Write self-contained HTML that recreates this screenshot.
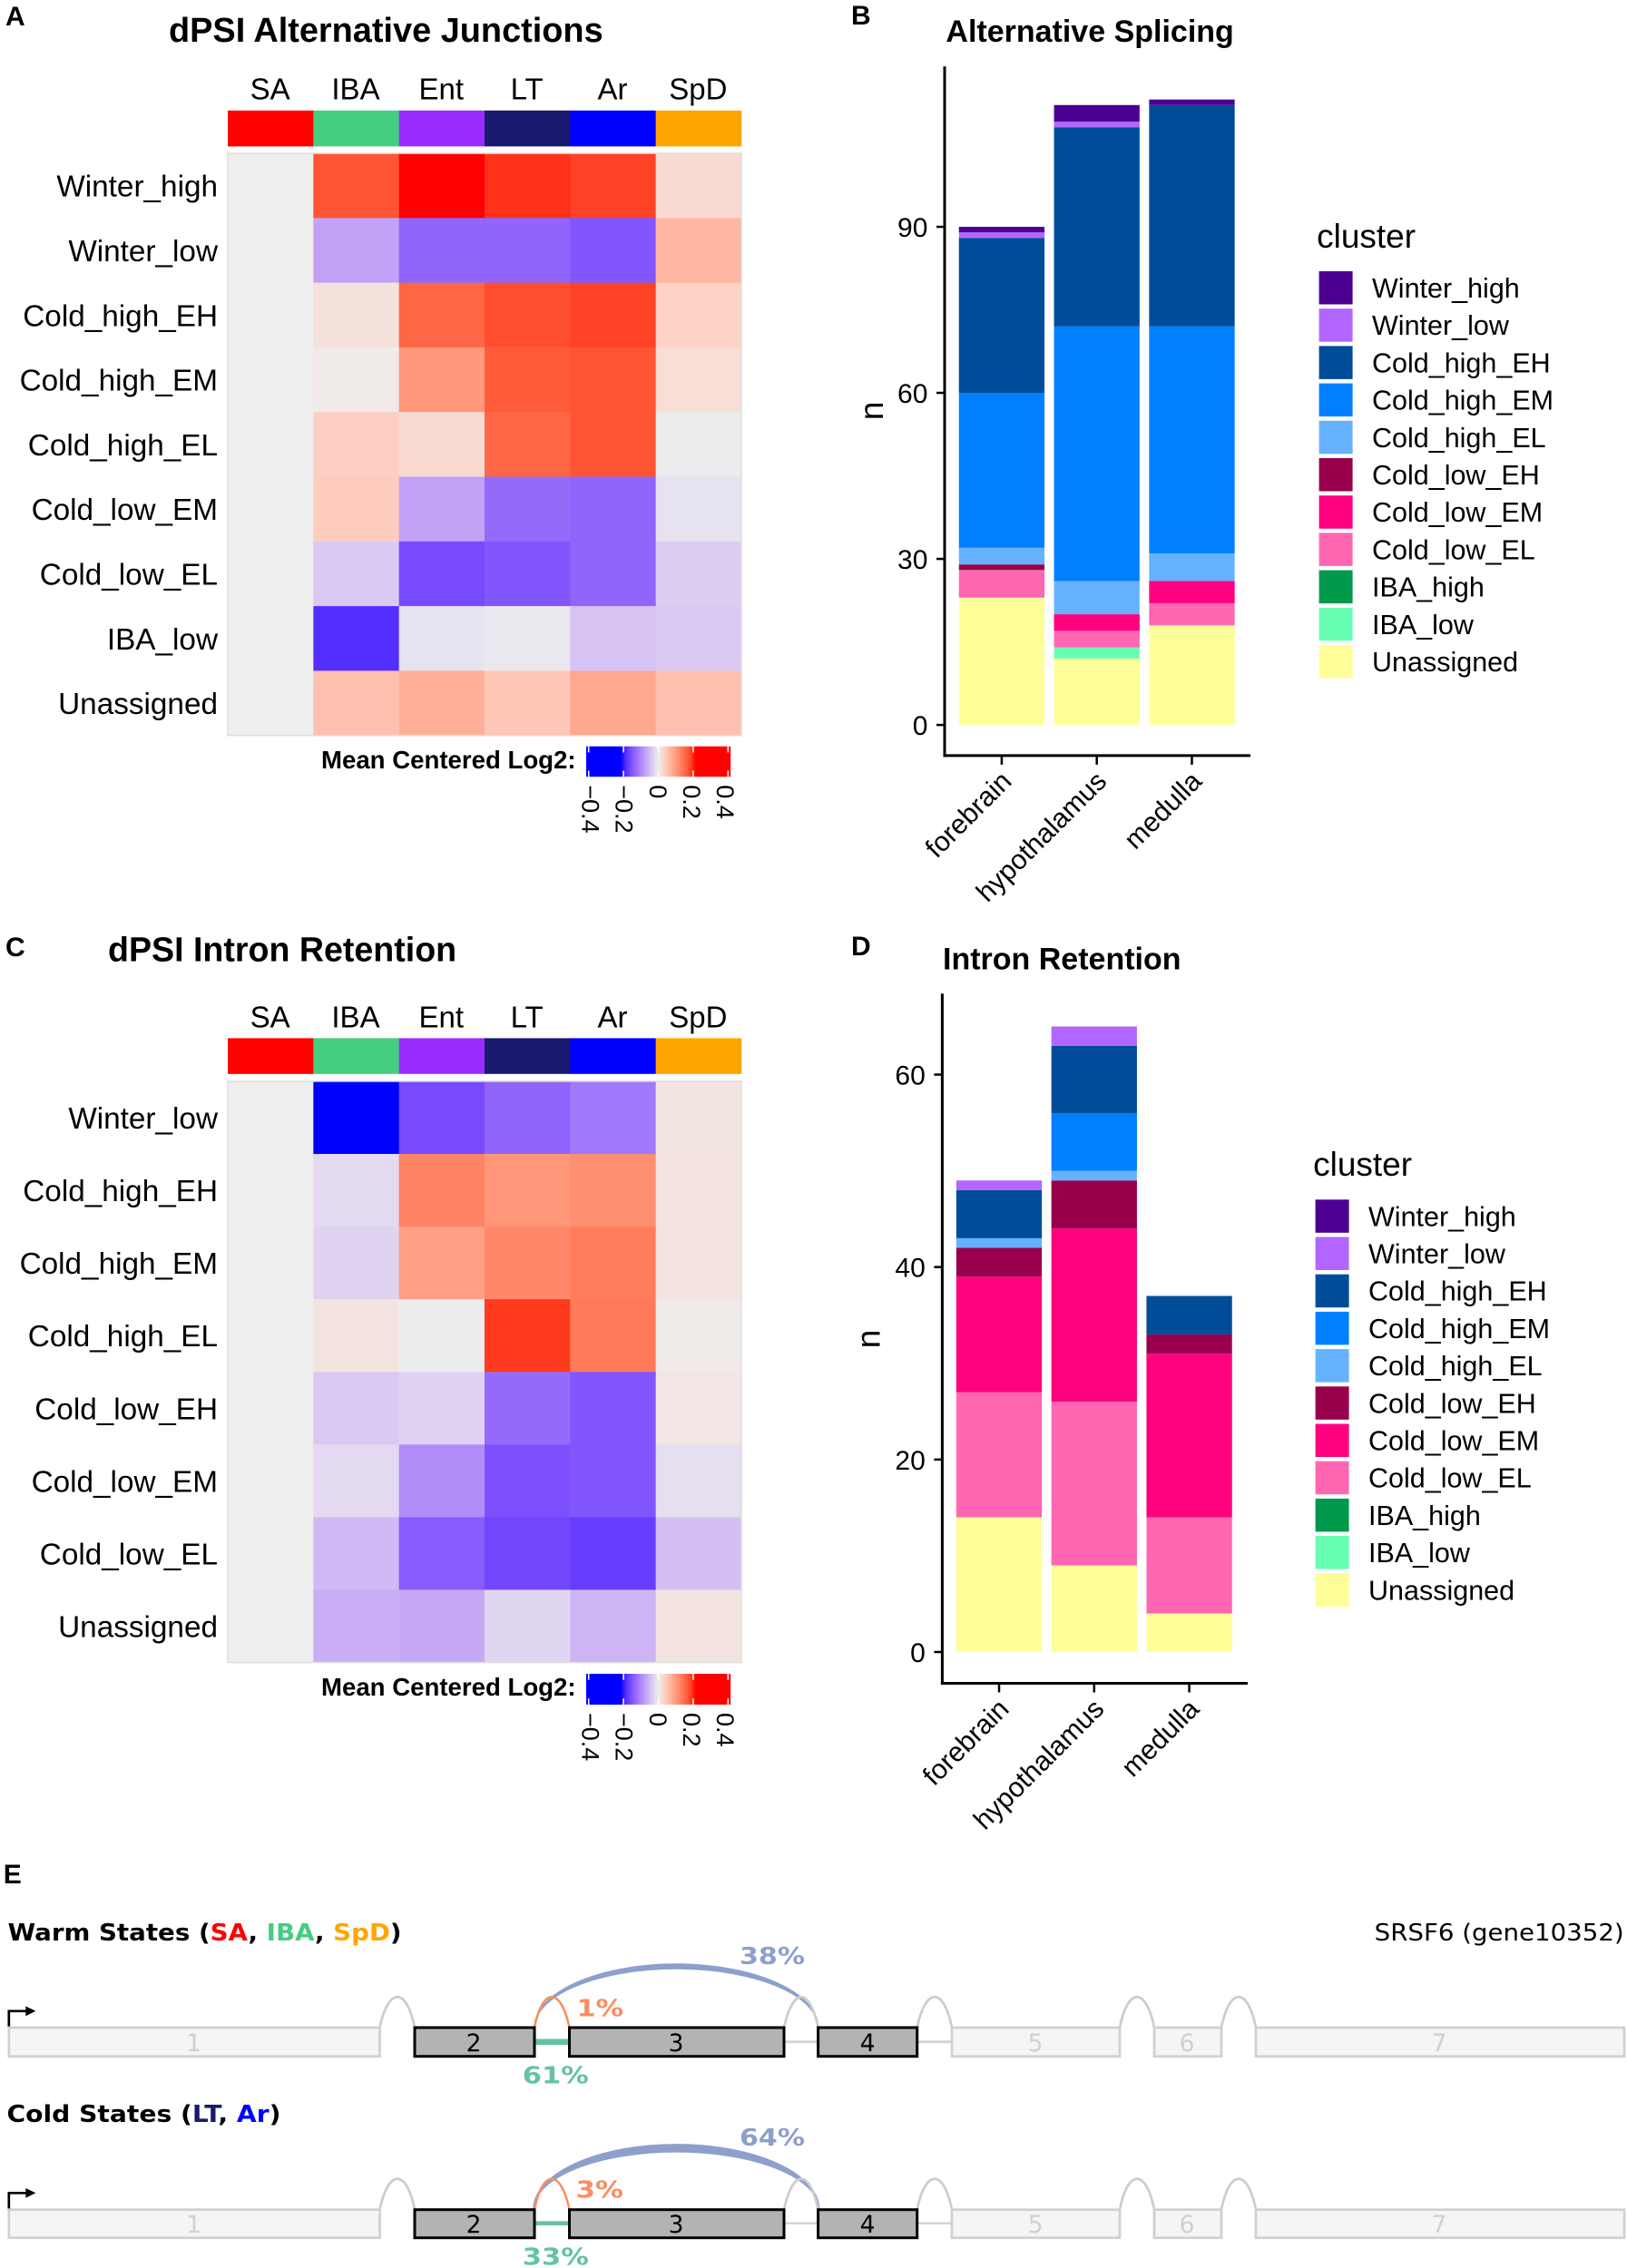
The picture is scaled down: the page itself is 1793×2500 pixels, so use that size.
<!DOCTYPE html>
<html lang="en">
<head>
<meta charset="utf-8">
<title>dPSI splicing figure</title>
<style>
html,body{margin:0;padding:0;background:#fff;}
svg{display:block;}
text{font-family:"Liberation Sans",sans-serif;fill:#000;}
.pl{font-weight:700;font-size:30px;}
.ttl{font-weight:700;}
.dj{font-family:"DejaVu Sans",sans-serif;}
.djb{font-family:"DejaVu Sans",sans-serif;font-weight:700;}
.ex{fill:#f5f5f5;stroke:#d0d0d0;stroke-width:2.7;}
.exa{fill:#b3b3b3;stroke:#000;stroke-width:3;}
.gn{font-family:"DejaVu Sans",sans-serif;font-size:26.5px;fill:#d0d0d0;text-anchor:middle;}
.an{font-family:"DejaVu Sans",sans-serif;font-size:26.5px;fill:#000;text-anchor:middle;}
.arc{fill:none;stroke:#cccccc;stroke-width:2.7;}
.blue{fill:#8da0cb;stroke:#8da0cb;stroke-width:1.5;}
</style>
</head>
<body>
<svg id="fig" xmlns="http://www.w3.org/2000/svg" width="1793" height="2500" viewBox="0 0 1793 2500">
  <rect width="1793" height="2500" fill="#fff"/>

  <text class="pl" x="6" y="28">A</text>
  <text class="ttl" x="186" y="46" font-size="37.9">dPSI Alternative Junctions</text>
  <g id="heatA"></g>

  <text class="pl" x="938" y="27">B</text>
  <text class="ttl" x="1042.4" y="46" font-size="34">Alternative Splicing</text>
  <g id="barsB"></g>

  <text class="pl" x="6" y="1054">C</text>
  <text class="ttl" x="119" y="1059.5" font-size="37.6">dPSI Intron Retention</text>
  <g id="heatC"></g>

  <text class="pl" x="938" y="1053">D</text>
  <text class="ttl" x="1039" y="1068.5" font-size="34">Intron Retention</text>
  <g id="barsD"></g>

  <!-- Panel E -->
  <text class="pl" x="3.8" y="2076">E</text>
  <text class="djb" x="8.6" y="2139" font-size="26" textLength="434" lengthAdjust="spacingAndGlyphs">Warm States (<tspan fill="#ff0000">SA</tspan>, <tspan fill="#45cd80">IBA</tspan>, <tspan fill="#ffa500">SpD</tspan>)</text>
  <text class="dj" x="1514.7" y="2139" font-size="26" textLength="275" lengthAdjust="spacingAndGlyphs">SRSF6 (gene10352)</text>
  <text class="djb" x="7.5" y="2339" font-size="26" textLength="302" lengthAdjust="spacingAndGlyphs">Cold States (<tspan fill="#191970">LT</tspan>, <tspan fill="#0000ff">Ar</tspan>)</text>

  <g>
    <path d="M9.8 2235V2216.8H30" fill="none" stroke="#000" stroke-width="2.7"/>
    <path d="M28.3 2211.5L39.3 2216.8L28.3 2222.3Z" fill="#000"/>
    <path class="arc" d="M418.5 2235C428 2190 448 2190 457 2235"/>
    <path class="arc" d="M1010.7 2235C1020 2190 1040 2190 1049 2235"/>
    <path class="arc" d="M1234 2235C1243 2190 1263 2190 1272 2235"/>
    <path class="arc" d="M1346 2235C1355 2190 1375 2190 1384 2235"/>
    <line x1="864" y1="2250.7" x2="901.6" y2="2250.7" stroke="#d4d4d4" stroke-width="3"/>
    <line x1="1010.7" y1="2250.7" x2="1049" y2="2250.7" stroke="#d4d4d4" stroke-width="3"/>
    <line x1="589" y1="2250.7" x2="627.5" y2="2250.7" stroke="#66c2a5" stroke-width="6.5"/>
    <path class="blue" d="M589 2235A156.3 70 0 0 1 901.6 2235A156.3 65 0 0 0 589 2235Z"/>
    <path class="arc" d="M864 2235C874 2190 892 2190 901.6 2235"/>
    <path d="M589 2235C598 2190 618 2190 627.5 2235" fill="none" stroke="#fc8d62" stroke-width="2.5"/>
    <rect class="ex" x="9.8" y="2235" width="408.7" height="31.7"/>
    <rect class="exa" x="457" y="2235" width="132" height="31.7"/>
    <rect class="exa" x="627.5" y="2235" width="236.5" height="31.7"/>
    <rect class="exa" x="901.6" y="2235" width="109.1" height="31.7"/>
    <rect class="ex" x="1049" y="2235" width="185" height="31.7"/>
    <rect class="ex" x="1272" y="2235" width="74" height="31.7"/>
    <rect class="ex" x="1384" y="2235" width="406" height="31.7"/>
    <text class="gn" x="213.5" y="2261">1</text>
    <text class="an" x="522" y="2261">2</text>
    <text class="an" x="745" y="2261">3</text>
    <text class="an" x="956" y="2261">4</text>
    <text class="gn" x="1141" y="2261">5</text>
    <text class="gn" x="1308" y="2261">6</text>
    <text class="gn" x="1586" y="2261">7</text>
    <text class="djb" x="815" y="2165" font-size="26" textLength="72" lengthAdjust="spacingAndGlyphs" style="fill:#8da0cb">38%</text>
    <text class="djb" x="635.5" y="2222.7" font-size="26" textLength="51.5" lengthAdjust="spacingAndGlyphs" style="fill:#fc8d62">1%</text>
    <text class="djb" x="575.8" y="2296.7" font-size="26" textLength="73" lengthAdjust="spacingAndGlyphs" style="fill:#66c2a5">61%</text>
  </g>

  <g>
    <path d="M9.8 2435.5V2417.3H30" fill="none" stroke="#000" stroke-width="2.7"/>
    <path d="M28.3 2412L39.3 2417.3L28.3 2422.8Z" fill="#000"/>
    <path class="arc" d="M418.5 2435.5C428 2390.5 448 2390.5 457 2435.5"/>
    <path class="arc" d="M1010.7 2435.5C1020 2390.5 1040 2390.5 1049 2435.5"/>
    <path class="arc" d="M1234 2435.5C1243 2390.5 1263 2390.5 1272 2435.5"/>
    <path class="arc" d="M1346 2435.5C1355 2390.5 1375 2390.5 1384 2435.5"/>
    <line x1="864" y1="2450.7" x2="901.6" y2="2450.7" stroke="#d4d4d4" stroke-width="2.5"/>
    <line x1="1010.7" y1="2450.7" x2="1049" y2="2450.7" stroke="#d4d4d4" stroke-width="2.5"/>
    <line x1="589" y1="2450.7" x2="627.5" y2="2450.7" stroke="#66c2a5" stroke-width="4.7"/>
    <path class="blue" d="M588 2435.5A157 71.5 0 0 1 902.6 2435.5A157 63.5 0 0 0 588 2435.5Z"/>
    <path class="arc" d="M864 2435.5C874 2390.5 892 2390.5 901.6 2435.5"/>
    <path d="M589 2435.5C598 2390.5 618 2390.5 627.5 2435.5" fill="none" stroke="#fc8d62" stroke-width="2.5"/>
    <rect class="ex" x="9.8" y="2435.7" width="408.7" height="31"/>
    <rect class="exa" x="457" y="2435.7" width="132" height="31"/>
    <rect class="exa" x="627.5" y="2435.7" width="236.5" height="31"/>
    <rect class="exa" x="901.6" y="2435.7" width="109.1" height="31"/>
    <rect class="ex" x="1049" y="2435.7" width="185" height="31"/>
    <rect class="ex" x="1272" y="2435.7" width="74" height="31"/>
    <rect class="ex" x="1384" y="2435.7" width="406" height="31"/>
    <text class="gn" x="213.5" y="2461">1</text>
    <text class="an" x="522" y="2461">2</text>
    <text class="an" x="745" y="2461">3</text>
    <text class="an" x="956" y="2461">4</text>
    <text class="gn" x="1141" y="2461">5</text>
    <text class="gn" x="1308" y="2461">6</text>
    <text class="gn" x="1586" y="2461">7</text>
    <text class="djb" x="815" y="2365" font-size="26" textLength="72" lengthAdjust="spacingAndGlyphs" style="fill:#8da0cb">64%</text>
    <text class="djb" x="634.5" y="2422.7" font-size="26" textLength="52.5" lengthAdjust="spacingAndGlyphs" style="fill:#fc8d62">3%</text>
    <text class="djb" x="575.8" y="2496.7" font-size="26" textLength="73" lengthAdjust="spacingAndGlyphs" style="fill:#66c2a5">33%</text>
  </g>
</svg>

<script>
const conditions = ['SA', 'IBA', 'Ent', 'LT', 'Ar', 'SpD'];
const conditionColors = ['#ff0000', '#45cd80', '#9a2cff', '#191970', '#0000ff', '#ffa500'];

const junctionRows = ['Winter_high', 'Winter_low', 'Cold_high_EH', 'Cold_high_EM', 'Cold_high_EL', 'Cold_low_EM', 'Cold_low_EL', 'IBA_low', 'Unassigned'];
const junctionValues = [
  [0, 0.17, 0.25, 0.195, 0.185, 0.024],
  [0, -0.075, -0.135, -0.135, -0.15, 0.068],
  [0, 0.016, 0.155, 0.175, 0.185, 0.034],
  [0, 0.004, 0.103, 0.165, 0.17, 0.02],
  [0, 0.038, 0.025, 0.155, 0.17, -0.003],
  [0, 0.042, -0.075, -0.13, -0.135, -0.012],
  [0, -0.036, -0.16, -0.15, -0.135, -0.032],
  [0, -0.185, -0.012, -0.005, -0.042, -0.036],
  [0, 0.056, 0.076, 0.048, 0.085, 0.056]
];

const intronRows = ['Winter_low', 'Cold_high_EH', 'Cold_high_EM', 'Cold_high_EL', 'Cold_low_EH', 'Cold_low_EM', 'Cold_low_EL', 'Unassigned'];
const intronValues = [
  [0, -0.25, -0.16, -0.135, -0.115, 0.01],
  [0, -0.02, 0.125, 0.105, 0.113, 0.012],
  [0, -0.026, 0.095, 0.12, 0.132, 0.012],
  [0, 0.012, -0.002, 0.19, 0.135, 0.004],
  [0, -0.036, -0.026, -0.13, -0.15, 0.008],
  [0, -0.02, -0.095, -0.155, -0.15, -0.015],
  [0, -0.052, -0.145, -0.165, -0.172, -0.046],
  [0, -0.063, -0.068, -0.023, -0.057, 0.012]
];

const colorbarTicks = [-0.4, -0.2, 0, 0.2, 0.4];
const colorbarTickLabels = ['\u22120.4', '\u22120.2', '0', '0.2', '0.4'];

const regions = ['forebrain', 'hypothalamus', 'medulla'];
const clusters = ['Winter_high', 'Winter_low', 'Cold_high_EH', 'Cold_high_EM', 'Cold_high_EL', 'Cold_low_EH', 'Cold_low_EM', 'Cold_low_EL', 'IBA_high', 'IBA_low', 'Unassigned'];
const clusterColors = ['#4b0092', '#b266ff', '#004c99', '#0080ff', '#66b2ff', '#99004c', '#ff007f', '#ff66b2', '#00994c', '#66ffb2', '#ffff99'];

const splicingForebrain = [1, 1, 28, 28, 3, 1, 0, 5, 0, 0, 23];
const splicingHypothalamus = [3, 1, 36, 46, 6, 0, 3, 3, 0, 2, 12];
const splicingMedulla = [1, 0, 40, 41, 5, 0, 4, 4, 0, 0, 18];
const splicingTicks = [0, 30, 60, 90];

const retentionForebrain = [0, 1, 5, 0, 1, 3, 12, 13, 0, 0, 14];
const retentionHypothalamus = [0, 2, 7, 6, 1, 5, 18, 17, 0, 0, 9];
const retentionMedulla = [0, 0, 4, 0, 0, 2, 17, 10, 0, 0, 4];
const retentionTicks = [0, 20, 40, 60];

const NS = 'http://www.w3.org/2000/svg';
function mk(parent, tag, attrs, txt) {
  const e = document.createElementNS(NS, tag);
  for (const k in attrs) e.setAttribute(k, attrs[k]);
  if (txt !== undefined) e.textContent = txt;
  parent.appendChild(e);
  return e;
}

/* Lab colour interpolation, as in a colorRamp2 scale */
function srgb2lin(c) { c /= 255; return c <= 0.04045 ? c / 12.92 : Math.pow((c + 0.055) / 1.055, 2.4); }
function lin2srgb(c) { c = Math.max(0, Math.min(1, c)); return 255 * (c <= 0.0031308 ? 12.92 * c : 1.055 * Math.pow(c, 1 / 2.4) - 0.055); }
function rgb2lab(r) {
  const R = srgb2lin(r[0]), G = srgb2lin(r[1]), B = srgb2lin(r[2]);
  const f = t => t > 0.008856 ? Math.cbrt(t) : 7.787 * t + 16 / 116;
  const x = f((0.4124 * R + 0.3576 * G + 0.1805 * B) / 0.95047);
  const y = f(0.2126 * R + 0.7152 * G + 0.0722 * B);
  const z = f((0.0193 * R + 0.1192 * G + 0.9505 * B) / 1.08883);
  return [116 * y - 16, 500 * (x - y), 200 * (y - z)];
}
function lab2rgb(l) {
  const fy = (l[0] + 16) / 116, fx = l[1] / 500 + fy, fz = fy - l[2] / 200;
  const g = t => t * t * t > 0.008856 ? t * t * t : (t - 16 / 116) / 7.787;
  const X = 0.95047 * g(fx), Y = g(fy), Z = 1.08883 * g(fz);
  return [
    lin2srgb(3.2406 * X - 1.5372 * Y - 0.4986 * Z),
    lin2srgb(-0.9689 * X + 1.8758 * Y + 0.0415 * Z),
    lin2srgb(0.0557 * X - 0.204 * Y + 1.057 * Z)
  ];
}
const colorDomain = 0.21;
const labMid = rgb2lab([238, 238, 238]), labHigh = rgb2lab([255, 0, 0]), labLow = rgb2lab([0, 0, 255]);
function heatColor(v) {
  const t = Math.min(1, Math.abs(v) / colorDomain);
  const end = v >= 0 ? labHigh : labLow;
  const c = lab2rgb([0, 1, 2].map(i => labMid[i] + (end[i] - labMid[i]) * t));
  return 'rgb(' + c.map(Math.round).join(',') + ')';
}

function drawHeatmap(root, key, rows, values, g) {
  const colX = c => g.left + c * g.colW;
  const rowY = r => g.top + r * g.rowH;

  conditions.forEach((name, c) => {
    const lab = mk(root, 'text', { x: colX(c) + g.colW / 2 - 0.5, y: g.colLabelY, 'font-size': 33, 'text-anchor': 'middle' }, name);
    
    
    const strip = mk(root, 'rect', { x: colX(c), y: g.stripTop, width: g.colW + 0.3, height: g.stripH, fill: conditionColors[c] });
    
    
  });

  rows.forEach((name, r) => {
    const lab = mk(root, 'text', { x: g.left - 11, y: rowY(r) + g.rowH / 2 + 12, 'font-size': 33.3, 'text-anchor': 'end' }, name);
    
    
    values[r].forEach((v, c) => {
      const cell = mk(root, 'rect', { x: colX(c), y: rowY(r), width: g.colW + 0.4, height: g.rowH + 0.4, fill: heatColor(v) });
      
      
    });
  });
  const frame = mk(root, 'rect', { x: g.left, y: g.top, width: g.colW * conditions.length, height: g.rowH * rows.length, fill: 'none', stroke: '#dddddd', 'stroke-width': 1.5 });
  
  

  /* colour bar */
  const cbX = v => 725.5 + v * 192;
  const defs = mk(root, 'defs', {});
  const grad = mk(defs, 'linearGradient', { id: 'grad' + key, x1: 0, x2: 1, y1: 0, y2: 0 });
  const lo = -0.414, hi = 0.415;
  for (let i = 0; i <= 60; i++) {
    const v = lo + (hi - lo) * i / 60;
    mk(grad, 'stop', { offset: (i / 60), 'stop-color': heatColor(v) });
  }
  const cbTitle = mk(root, 'text', { x: 354, y: g.cbTitleY, 'font-size': 27.6, 'font-weight': 700 }, 'Mean Centered Log2:');
  
  
  const bar = mk(root, 'rect', { x: cbX(lo), y: g.cbTop, width: cbX(hi) - cbX(lo), height: g.cbH, fill: 'url(#grad' + key + ')' });
  
  
  colorbarTicks.forEach((v, i) => {
    const t1 = mk(root, 'line', { x1: cbX(v), x2: cbX(v), y1: g.cbTop, y2: g.cbTop + g.cbH * 0.2, stroke: '#fff', 'stroke-width': 1.5 });
    
    
    const t2 = mk(root, 'line', { x1: cbX(v), x2: cbX(v), y1: g.cbTop + g.cbH * 0.8, y2: g.cbTop + g.cbH, stroke: '#fff', 'stroke-width': 1.5 });
    
    
    const lx = 725.8 + v * 185.3 - 10;
    const lab = mk(root, 'text', { transform: 'translate(' + lx + ',' + (g.cbTop + g.cbH + 9) + ') rotate(90)', 'font-size': 27 }, colorbarTickLabels[i]);
    
    
  });
}

function drawBars(root, series, ticks, g) {
  const yS = v => g.y0 - v * g.perUnit;
  const xS = i => g.x0 + i * g.band;

  series.forEach((counts, i) => {
    let cum = 0;
    for (let k = clusters.length - 1; k >= 0; k--) {
      if (!counts[k]) continue;
      const y1 = yS(cum + counts[k]), y2 = yS(cum);
      const seg = mk(root, 'rect', { x: xS(i) - g.barW / 2, y: y1, width: g.barW, height: y2 - y1, fill: clusterColors[k] });
      
      
      cum += counts[k];
    }
  });

  const yAxis = mk(root, 'line', { x1: g.axisX, x2: g.axisX, y1: g.axisTop, y2: g.axisY + 1.5, stroke: '#000', 'stroke-width': 3 });
  
  
  const xAxis = mk(root, 'line', { x1: g.axisX - 1.5, x2: g.axisRight, y1: g.axisY, y2: g.axisY, stroke: '#000', 'stroke-width': 3 });
  
  

  ticks.forEach(v => {
    const t = mk(root, 'line', { x1: g.axisX - 9, x2: g.axisX, y1: yS(v), y2: yS(v), stroke: '#000', 'stroke-width': 2.5 });
    
    
    const lab = mk(root, 'text', { x: g.axisX - 18.6, y: yS(v) + 11, 'font-size': 30, 'text-anchor': 'end', fill: '#000' }, String(v));
    
    
  });

  regions.forEach((name, i) => {
    const t = mk(root, 'line', { x1: xS(i), x2: xS(i), y1: g.axisY, y2: g.axisY + 10, stroke: '#000', 'stroke-width': 2.5 });
    
    
    const lab = mk(root, 'text', { transform: 'translate(' + (xS(i) + 12.5) + ',' + (g.axisY + 30) + ') rotate(-45)', 'font-size': 30.2, 'text-anchor': 'end' }, name);
    
    
  });

  const yTitle = mk(root, 'text', { transform: 'translate(' + g.nX + ',' + g.nY + ') rotate(-90)', 'font-size': 37, 'text-anchor': 'middle' }, 'n');
  
  

  const legTitle = mk(root, 'text', { x: g.legX - 2.5, y: g.legTitleY, 'font-size': 37 }, 'cluster');
  
  
  clusters.forEach((name, k) => {
    const top = g.legTop + k * 41.2;
    const sw = mk(root, 'rect', { x: g.legX, y: top, width: 37, height: 36.5, fill: clusterColors[k] });
    
    
    const lab = mk(root, 'text', { x: g.legX + 58.4, y: top + 29, 'font-size': 30.5 }, name);
    
    
  });
}

drawHeatmap(document.getElementById('heatA'), 'A', junctionRows, junctionValues, {
  left: 251, colW: 94.33, top: 169, rowH: 71.3, stripTop: 121.8, stripH: 39.6, colLabelY: 109.7,
  cbTop: 822.7, cbH: 33.5, cbTitleY: 847
});
drawHeatmap(document.getElementById('heatC'), 'C', intronRows, intronValues, {
  left: 251, colW: 94.33, top: 1191.9, rowH: 80.08, stripTop: 1144.4, stripH: 39.4, colLabelY: 1132.5,
  cbTop: 1845, cbH: 34, cbTitleY: 1868.8
});
drawBars(document.getElementById('barsB'), [splicingForebrain, splicingHypothalamus, splicingMedulla], splicingTicks, {
  y0: 799.1, perUnit: 6.101, x0: 1103.9, band: 104.8, barW: 94.3,
  axisX: 1041, axisY: 832.9, axisTop: 73.3, axisRight: 1378,
  nX: 973, nY: 452.8, legX: 1453.6, legTitleY: 273, legTop: 299
});
drawBars(document.getElementById('barsD'), [retentionForebrain, retentionHypothalamus, retentionMedulla], retentionTicks, {
  y0: 1821, perUnit: 10.608, x0: 1101, band: 104.8, barW: 94.3,
  axisX: 1038.4, axisY: 1855.5, axisTop: 1095.3, axisRight: 1375,
  nX: 969.5, nY: 1476, legX: 1449.6, legTitleY: 1296, legTop: 1322.3
});
</script>
</body>
</html>
